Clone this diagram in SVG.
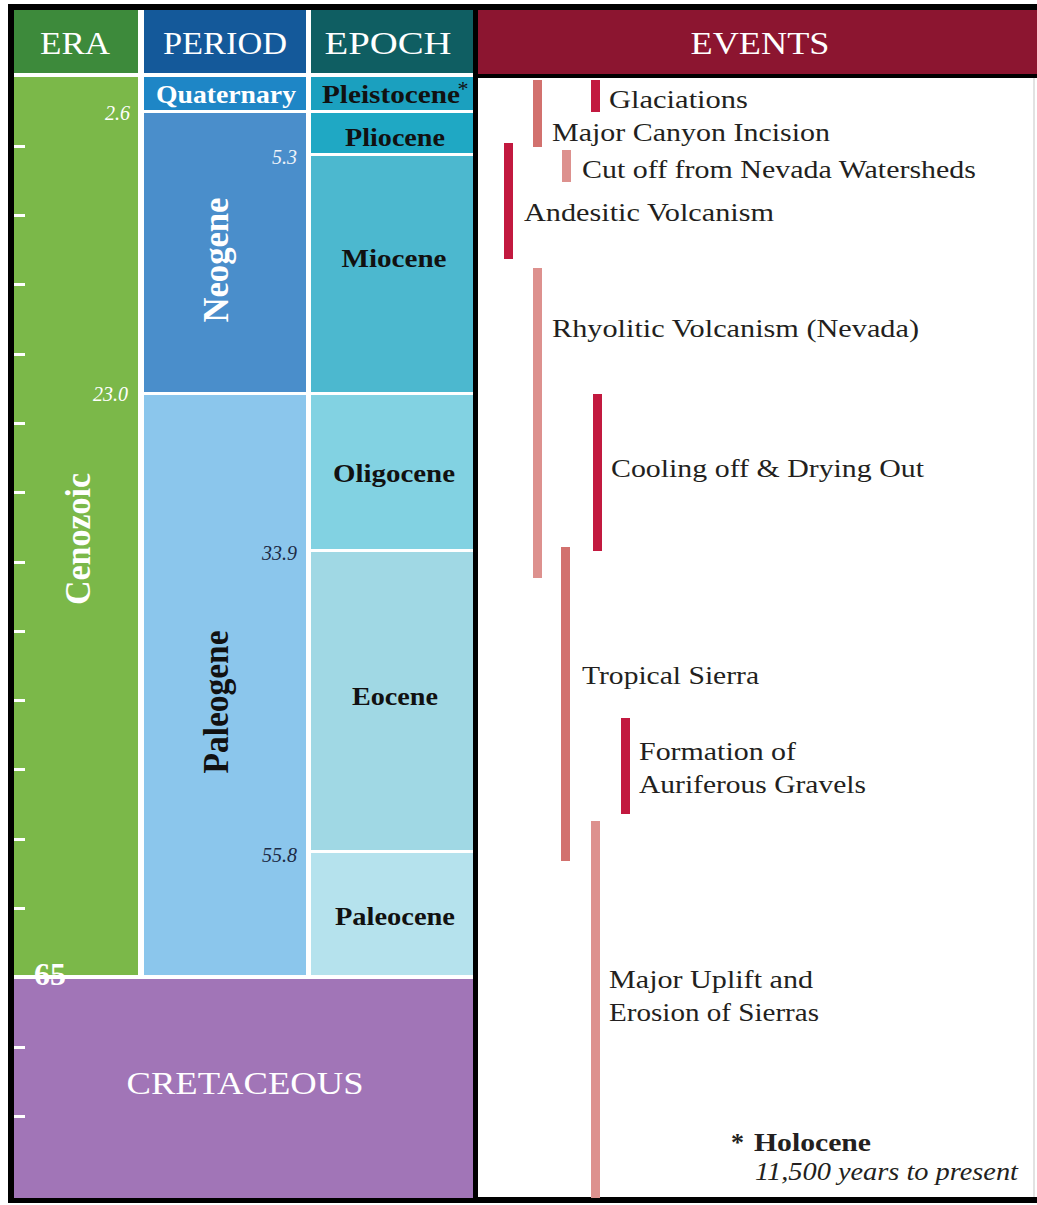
<svg xmlns="http://www.w3.org/2000/svg" width="1037" height="1205" viewBox="0 0 1037 1205">
  <style>
    .serif { font-family: "Liberation Serif", "Times New Roman", serif; }
    .hdr { font-family: "Liberation Serif", serif; font-size: 32px; fill: #ffffff; text-anchor: middle; }
    .ep { font-family: "Liberation Serif", serif; font-size: 26px; font-weight: bold; fill: #111111; text-anchor: middle; }
    .num { font-family: "Liberation Serif", serif; font-size: 20px; font-style: italic; text-anchor: end; }
    .rot { font-family: "Liberation Serif", serif; font-size: 35px; font-weight: bold; text-anchor: middle; }
    .ev { font-family: "Liberation Serif", serif; font-size: 26px; fill: #231f20; }
    .tick { fill: #ffffff; }
    .dark { fill: #c2193f; }
    .mid { fill: #d2716e; }
    .light { fill: #dd918e; }
  </style>

  <rect x="0" y="0" width="1037" height="1205" fill="#ffffff"/>
  <!-- black frame -->
  <rect x="8" y="4" width="1029" height="1199" fill="#000000"/>
  <!-- left white base (gaps) -->
  <rect x="14" y="10" width="459" height="1188" fill="#ffffff"/>
  <!-- events body -->
  <rect x="478" y="78" width="559" height="1119" fill="#ffffff"/>
  <line x1="1034" y1="78" x2="1034" y2="1197" stroke="#d8d8d8" stroke-width="1.5"/>

  <g id="header-era">
    <rect x="14" y="10" width="124" height="63" fill="#3d8a3b"/>
    <text class="hdr" x="75" y="54" textLength="70" lengthAdjust="spacingAndGlyphs">ERA</text>
  </g>
  <g id="header-period">
    <rect x="144" y="10" width="162" height="63" fill="#14599a"/>
    <text class="hdr" x="225" y="54" textLength="124" lengthAdjust="spacingAndGlyphs">PERIOD</text>
  </g>
  <g id="header-epoch">
    <rect x="311" y="10" width="162" height="63" fill="#0f5e62"/>
    <text class="hdr" x="388" y="54" textLength="127" lengthAdjust="spacingAndGlyphs">EPOCH</text>
  </g>
  <g id="header-events">
    <rect x="478" y="10" width="559" height="64" fill="#8c1530"/>
    <text class="hdr" x="760" y="54" textLength="139" lengthAdjust="spacingAndGlyphs">EVENTS</text>
  </g>

  <g id="era-cenozoic">
    <rect x="14" y="77" width="124" height="898" fill="#7bb849"/>
    <text class="rot" transform="translate(90,539) rotate(-90)" fill="#ffffff" font-size="33" textLength="132" lengthAdjust="spacingAndGlyphs">Cenozoic</text>
  </g>

  <g id="period-quaternary">
    <rect x="144" y="77" width="162" height="33" fill="#1e86c6"/>
    <text class="ep" x="226" y="103" font-size="25" style="fill:#ffffff" textLength="140" lengthAdjust="spacingAndGlyphs">Quaternary</text>
  </g>
  <g id="period-neogene">
    <rect x="144" y="113" width="162" height="279" fill="#4a8ecb"/>
    <text class="rot" transform="translate(228,260) rotate(-90)" fill="#ffffff" textLength="125" lengthAdjust="spacingAndGlyphs">Neogene</text>
  </g>
  <g id="period-paleogene">
    <rect x="144" y="395" width="162" height="580" fill="#8bc6ec"/>
    <text class="rot" transform="translate(228,702) rotate(-90)" fill="#111111" textLength="143" lengthAdjust="spacingAndGlyphs">Paleogene</text>
  </g>

  <g id="epoch-pleistocene">
    <rect x="311" y="77" width="162" height="33" fill="#1ba0bf"/>
    <text class="ep" x="391" y="103" font-size="25" textLength="138" lengthAdjust="spacingAndGlyphs">Pleistocene</text>
    <text class="serif" x="463" y="96" font-size="22" fill="#111111" text-anchor="middle">*</text>
  </g>
  <g id="epoch-pliocene">
    <rect x="311" y="113" width="162" height="40" fill="#1fa8c4"/>
    <text class="ep" x="395" y="146" textLength="100" lengthAdjust="spacingAndGlyphs">Pliocene</text>
  </g>
  <g id="epoch-miocene">
    <rect x="311" y="156" width="162" height="236" fill="#4cb8cf"/>
    <text class="ep" x="394" y="267" textLength="105" lengthAdjust="spacingAndGlyphs">Miocene</text>
  </g>
  <g id="epoch-oligocene">
    <rect x="311" y="395" width="162" height="154" fill="#82d2e2"/>
    <text class="ep" x="394" y="482" textLength="122" lengthAdjust="spacingAndGlyphs">Oligocene</text>
  </g>
  <g id="epoch-eocene">
    <rect x="311" y="552" width="162" height="298" fill="#a0d8e4"/>
    <text class="ep" x="395" y="705" textLength="86" lengthAdjust="spacingAndGlyphs">Eocene</text>
  </g>
  <g id="epoch-paleocene">
    <rect x="311" y="853" width="162" height="122" fill="#b5e2ed"/>
    <text class="ep" x="395" y="925" textLength="120" lengthAdjust="spacingAndGlyphs">Paleocene</text>
  </g>

  <g id="era-cretaceous">
    <rect x="14" y="979" width="459" height="219" fill="#a175b7"/>
    <text class="hdr" x="245" y="1094" textLength="237" lengthAdjust="spacingAndGlyphs">CRETACEOUS</text>
  </g>

  <g id="scale">
    <rect class="tick" x="14" y="145" width="11" height="3"/>
    <rect class="tick" x="14" y="214" width="11" height="3"/>
    <rect class="tick" x="14" y="283" width="11" height="3"/>
    <rect class="tick" x="14" y="353" width="11" height="3"/>
    <rect class="tick" x="14" y="422" width="11" height="3"/>
    <rect class="tick" x="14" y="491" width="11" height="3"/>
    <rect class="tick" x="14" y="561" width="11" height="3"/>
    <rect class="tick" x="14" y="630" width="11" height="3"/>
    <rect class="tick" x="14" y="699" width="11" height="3"/>
    <rect class="tick" x="14" y="768" width="11" height="3"/>
    <rect class="tick" x="14" y="838" width="11" height="3"/>
    <rect class="tick" x="14" y="907" width="11" height="3"/>
    <rect class="tick" x="14" y="976" width="14" height="3"/>
    <rect class="tick" x="75" y="975" width="398" height="4"/>
    <rect class="tick" x="14" y="1046" width="11" height="3"/>
    <rect class="tick" x="14" y="1115" width="11" height="3"/>
    <text class="serif" x="50" y="985" font-size="31" font-weight="bold" fill="#ffffff" text-anchor="middle" textLength="32" lengthAdjust="spacingAndGlyphs">65</text>
    <text class="num" x="130" y="120" fill="#ffffff">2.6</text>
    <text class="num" x="297" y="164" fill="#eef3fa">5.3</text>
    <text class="num" x="128" y="401" fill="#ffffff">23.0</text>
    <text class="num" x="297" y="560" fill="#1c2b45">33.9</text>
    <text class="num" x="297" y="862" fill="#1c2b45">55.8</text>
  </g>

  <g id="events">
    <g id="ev-glaciations">
      <rect class="dark" x="591" y="80" width="9" height="32"/>
      <text class="ev" x="609" y="108" textLength="139" lengthAdjust="spacingAndGlyphs">Glaciations</text>
    </g>
    <g id="ev-canyon">
      <rect class="mid" x="533" y="80" width="9" height="67"/>
      <text class="ev" x="552" y="141" textLength="278" lengthAdjust="spacingAndGlyphs">Major Canyon Incision</text>
    </g>
    <g id="ev-cutoff">
      <rect class="light" x="562" y="150" width="9" height="32"/>
      <text class="ev" x="582" y="178" textLength="394" lengthAdjust="spacingAndGlyphs">Cut off from Nevada Watersheds</text>
    </g>
    <g id="ev-andesitic">
      <rect class="dark" x="504" y="143" width="9" height="116"/>
      <text class="ev" x="524" y="221" textLength="250" lengthAdjust="spacingAndGlyphs">Andesitic Volcanism</text>
    </g>
    <g id="ev-rhyolitic">
      <rect class="light" x="533" y="268" width="9" height="310"/>
      <text class="ev" x="552" y="337" textLength="367" lengthAdjust="spacingAndGlyphs">Rhyolitic Volcanism (Nevada)</text>
    </g>
    <g id="ev-cooling">
      <rect class="dark" x="593" y="394" width="9" height="157"/>
      <text class="ev" x="611" y="477" textLength="313" lengthAdjust="spacingAndGlyphs">Cooling off &amp; Drying Out</text>
    </g>
    <g id="ev-tropical">
      <rect class="mid" x="561" y="547" width="9" height="314"/>
      <text class="ev" x="582" y="684" textLength="177" lengthAdjust="spacingAndGlyphs">Tropical Sierra</text>
    </g>
    <g id="ev-auriferous">
      <rect class="dark" x="621" y="718" width="9" height="96"/>
      <text class="ev" x="639" y="760" textLength="157" lengthAdjust="spacingAndGlyphs">Formation of</text>
      <text class="ev" x="639" y="793" textLength="227" lengthAdjust="spacingAndGlyphs">Auriferous Gravels</text>
    </g>
    <g id="ev-uplift">
      <rect class="light" x="591" y="821" width="9" height="377"/>
      <text class="ev" x="609" y="988" textLength="204" lengthAdjust="spacingAndGlyphs">Major Uplift and</text>
      <text class="ev" x="609" y="1021" textLength="210" lengthAdjust="spacingAndGlyphs">Erosion of Sierras</text>
    </g>
    <g id="note-holocene">
      <text class="ev" x="731" y="1151" font-weight="bold">*</text>
      <text class="ev" x="754" y="1151" font-weight="bold" textLength="117" lengthAdjust="spacingAndGlyphs">Holocene</text>
      <text class="ev" x="755" y="1180" font-style="italic" textLength="263" lengthAdjust="spacingAndGlyphs">11,500 years to present</text>
    </g>
  </g>
</svg>
